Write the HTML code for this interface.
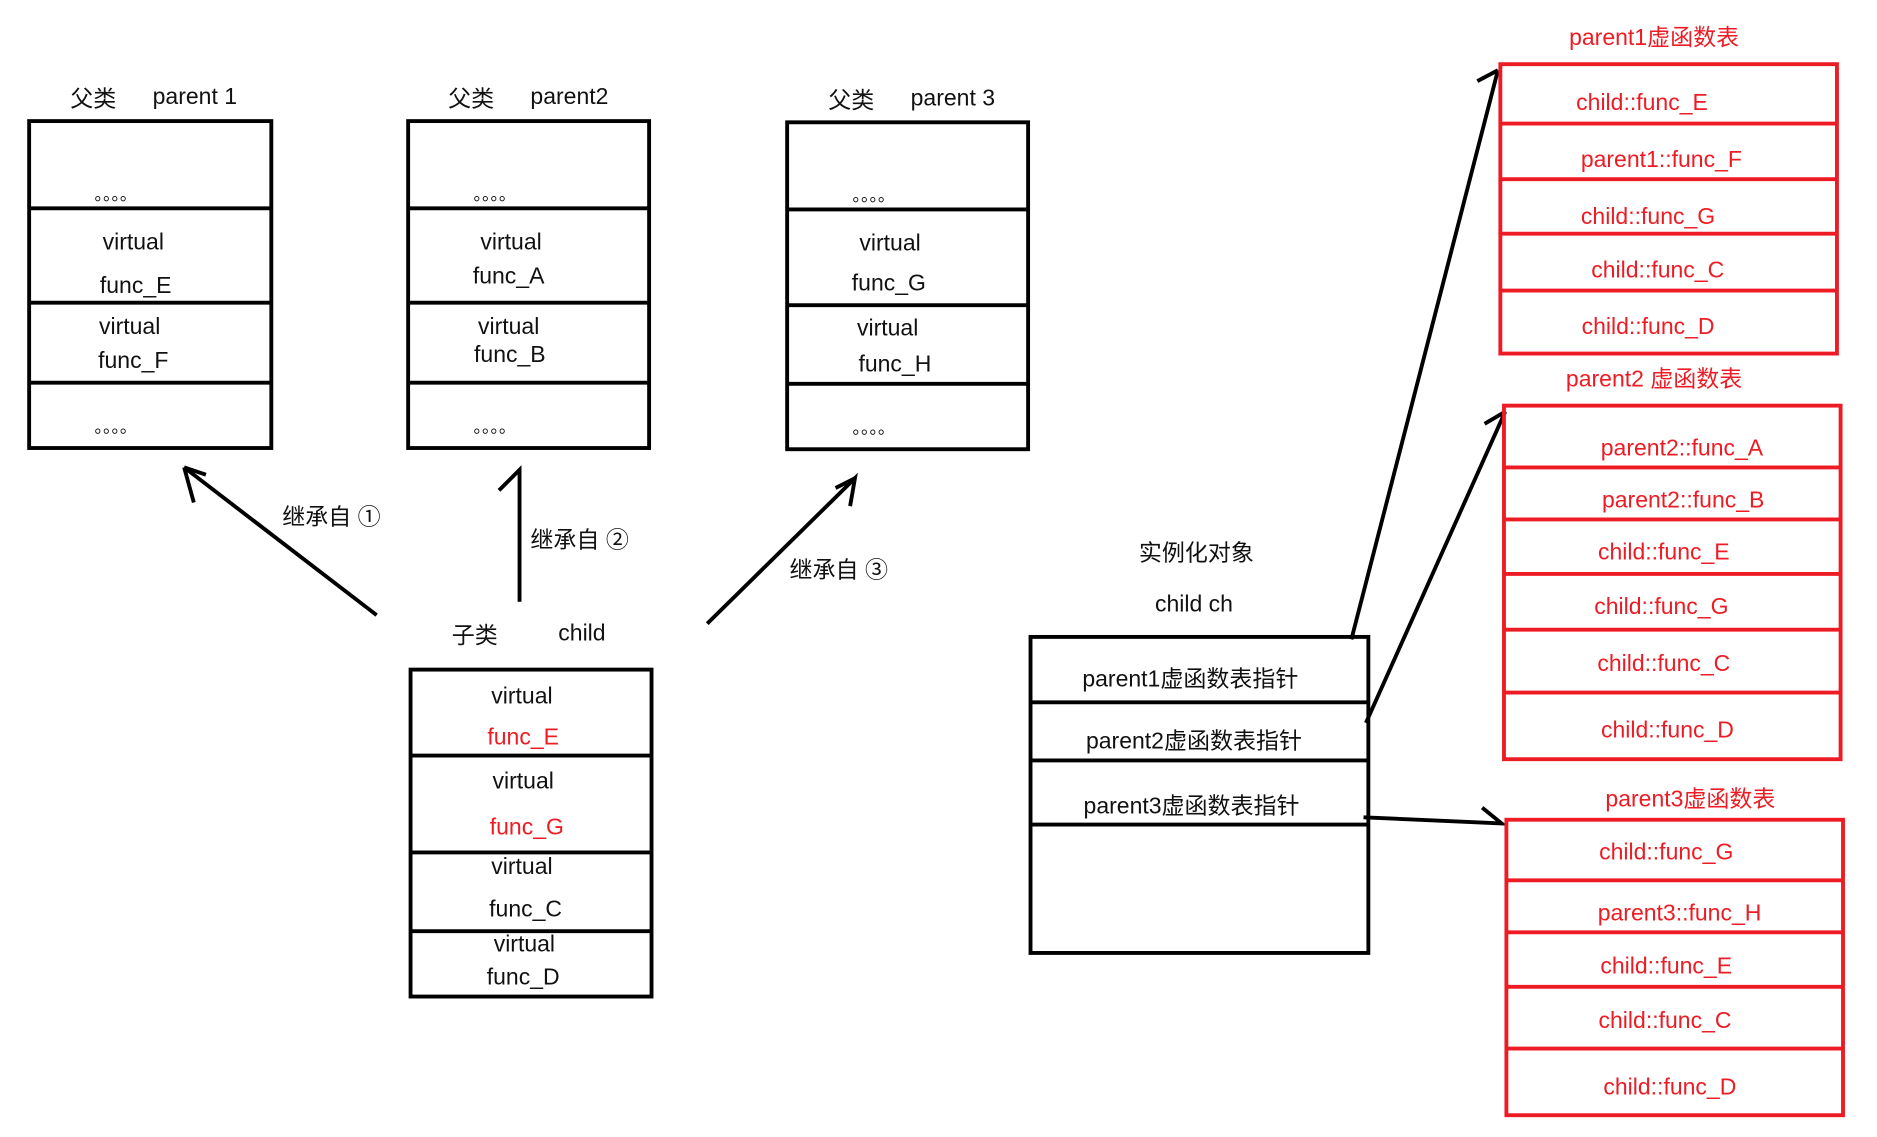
<!DOCTYPE html>
<html><head><meta charset="utf-8"><style>
html,body{margin:0;padding:0;background:#fff;}
svg{display:block}
text{font-family:"Liberation Sans","Noto Sans CJK SC",sans-serif;font-size:19px;fill:#111;}
.r{fill:#ed1c24}
.m{text-anchor:middle}
.dot{font-size:14px}
</style></head><body>
<svg width="1877" height="1137" viewBox="0 0 1550 939" xmlns="http://www.w3.org/2000/svg">
<g fill="none" stroke="#000" stroke-width="3.2">
<rect x="24" y="100" width="200" height="270"/>
<line x1="24" y1="172" x2="224" y2="172"/><line x1="24" y1="250" x2="224" y2="250"/><line x1="24" y1="316" x2="224" y2="316"/>
<rect x="337" y="100" width="199" height="270"/>
<line x1="337" y1="172" x2="536" y2="172"/><line x1="337" y1="250" x2="536" y2="250"/><line x1="337" y1="316" x2="536" y2="316"/>
<rect x="650" y="101" width="199" height="270"/>
<line x1="650" y1="173" x2="849" y2="173"/><line x1="650" y1="252" x2="849" y2="252"/><line x1="650" y1="317" x2="849" y2="317"/>
<rect x="339" y="553" width="199" height="270"/>
<line x1="339" y1="624" x2="538" y2="624"/><line x1="339" y1="704" x2="538" y2="704"/><line x1="339" y1="769" x2="538" y2="769"/>
<rect x="851" y="526" width="279" height="261"/>
<line x1="851" y1="580" x2="1130" y2="580"/><line x1="851" y1="628" x2="1130" y2="628"/><line x1="851" y1="681" x2="1130" y2="681"/>
<!-- arrows -->
<polyline points="311,508 152,386"/><polyline points="152,386 160,415"/><polyline points="152,386 170,392"/>
<polyline points="429,497 429,388 412,405"/>
<polyline points="584,515 706,395 702,418"/><polyline points="706,395 690,403"/>
<polyline points="1116,528 1237,58"/><polyline points="1237,58 1220,67"/>
<polyline points="1128,597 1243,340"/><polyline points="1243,340 1226,350"/>
<polyline points="1126,675 1240,680 1224,667"/>
</g>
<g fill="none" stroke="#ed1c24" stroke-width="3.2">
<rect x="1239" y="53" width="278" height="239"/>
<line x1="1239" y1="102" x2="1517" y2="102"/><line x1="1239" y1="148" x2="1517" y2="148"/><line x1="1239" y1="193" x2="1517" y2="193"/><line x1="1239" y1="240" x2="1517" y2="240"/>
<rect x="1242" y="335" width="278" height="292"/>
<line x1="1242" y1="386" x2="1520" y2="386"/><line x1="1242" y1="429" x2="1520" y2="429"/><line x1="1242" y1="474" x2="1520" y2="474"/><line x1="1242" y1="520" x2="1520" y2="520"/><line x1="1242" y1="572" x2="1520" y2="572"/>
<rect x="1244" y="677" width="278" height="244"/>
<line x1="1244" y1="727" x2="1522" y2="727"/><line x1="1244" y1="770" x2="1522" y2="770"/><line x1="1244" y1="815" x2="1522" y2="815"/><line x1="1244" y1="866" x2="1522" y2="866"/>
</g>
<!-- titles -->
<text x="58" y="88">父类</text><text x="126" y="86">parent 1</text>
<text x="370" y="88">父类</text><text x="438" y="86">parent2</text>
<text x="684" y="89">父类</text><text x="752" y="87">parent 3</text>
<text x="373" y="531">子类</text><text x="461" y="529">child</text>
<!-- dots -->
<text class="dot" x="78" y="165">。。。。</text><text class="dot" x="78" y="357">。。。。</text>
<text class="dot" x="391" y="165">。。。。</text><text class="dot" x="391" y="357">。。。。</text>
<text class="dot" x="704" y="166">。。。。</text><text class="dot" x="704" y="358">。。。。</text>
<!-- parent texts -->
<text class="m" x="110" y="206">virtual</text><text class="m" x="112" y="242">func_E</text>
<text class="m" x="107" y="276">virtual</text><text class="m" x="110" y="304">func_F</text>
<text class="m" x="422" y="206">virtual</text><text class="m" x="420" y="234">func_A</text>
<text class="m" x="420" y="276">virtual</text><text class="m" x="421" y="299">func_B</text>
<text class="m" x="735" y="207">virtual</text><text class="m" x="734" y="240">func_G</text>
<text class="m" x="733" y="277">virtual</text><text class="m" x="739" y="307">func_H</text>
<!-- child texts -->
<text class="m" x="431" y="581">virtual</text><text class="m r" x="432" y="615">func_E</text>
<text class="m" x="432" y="651">virtual</text><text class="m r" x="435" y="689">func_G</text>
<text class="m" x="431" y="722">virtual</text><text class="m" x="434" y="757">func_C</text>
<text class="m" x="433" y="786">virtual</text><text class="m" x="432" y="813">func_D</text>
<!-- labels -->
<text x="233" y="433">继承自 ①</text>
<text x="438" y="452">继承自 ②</text>
<text x="652" y="477">继承自 ③</text>
<text class="m" x="988" y="463">实例化对象</text>
<text class="m" x="986" y="505">child ch</text>
<text class="m" x="983" y="567">parent1虚函数表指针</text>
<text class="m" x="986" y="618">parent2虚函数表指针</text>
<text class="m" x="984" y="672">parent3虚函数表指针</text>
<!-- red tables -->
<text class="m r" x="1366" y="37">parent1虚函数表</text>
<text class="m r" x="1356" y="91">child::func_E</text>
<text class="m r" x="1372" y="138">parent1::func_F</text>
<text class="m r" x="1361" y="185">child::func_G</text>
<text class="m r" x="1369" y="229">child::func_C</text>
<text class="m r" x="1361" y="276">child::func_D</text>
<text class="m r" x="1366" y="319">parent2 虚函数表</text>
<text class="m r" x="1389" y="376">parent2::func_A</text>
<text class="m r" x="1390" y="419">parent2::func_B</text>
<text class="m r" x="1374" y="462">child::func_E</text>
<text class="m r" x="1372" y="507">child::func_G</text>
<text class="m r" x="1374" y="554">child::func_C</text>
<text class="m r" x="1377" y="609">child::func_D</text>
<text class="m r" x="1396" y="666">parent3虚函数表</text>
<text class="m r" x="1376" y="710">child::func_G</text>
<text class="m r" x="1387" y="760">parent3::func_H</text>
<text class="m r" x="1376" y="804">child::func_E</text>
<text class="m r" x="1375" y="849">child::func_C</text>
<text class="m r" x="1379" y="904">child::func_D</text>
</svg>
</body></html>
